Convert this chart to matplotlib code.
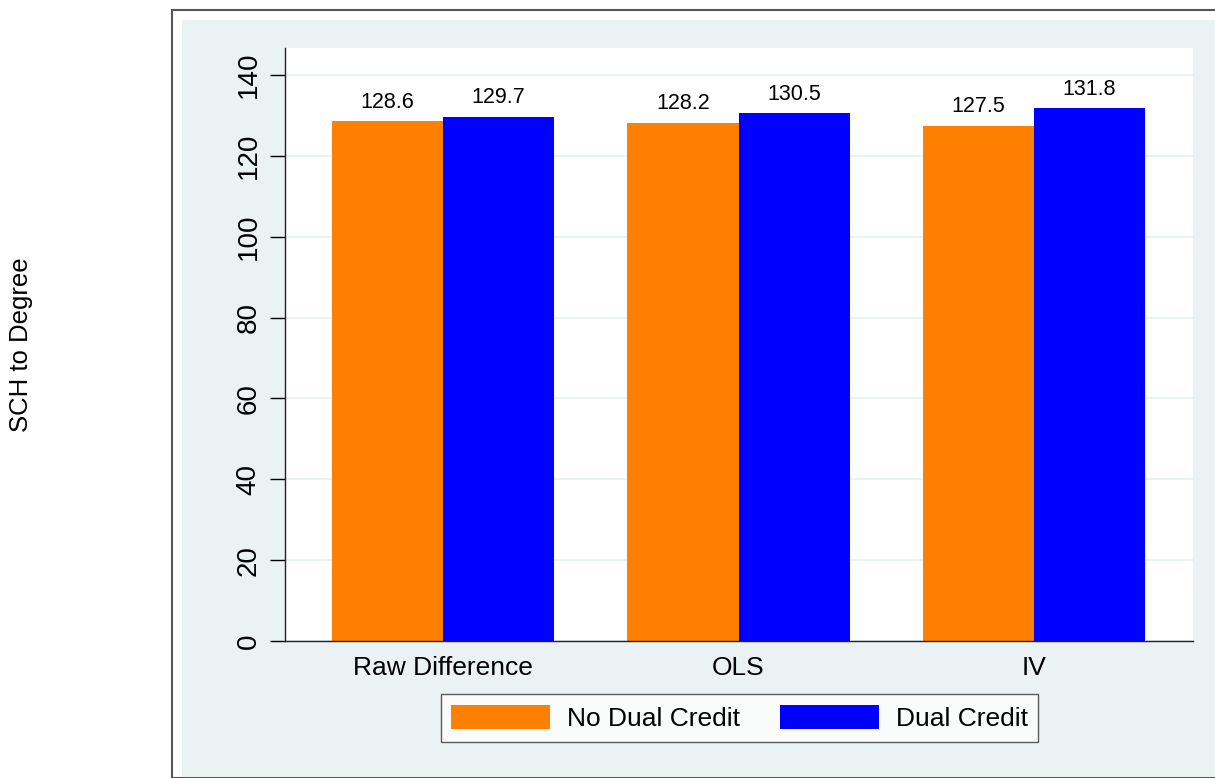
import matplotlib
matplotlib.use("Agg")
import matplotlib.pyplot as plt
import numpy as np
from matplotlib.patches import Rectangle

plt.rcParams['font.family'] = ['Liberation Sans', 'DejaVu Sans']

categories = ['Raw Difference', 'OLS', 'IV']
no_dual = [128.6, 128.2, 127.5]
dual = [129.7, 130.5, 131.8]
series_labels = ['No Dual Credit', 'Dual Credit']
yticks = [0, 20, 40, 60, 80, 100, 120, 140]

W, H = 1215, 778
fig = plt.figure(figsize=(W / 100, H / 100), dpi=100)
fig.patch.set_facecolor('white')

# outer frame and light panel (Stata-like graph region)
fig.patches.append(Rectangle((172 / W, 0), (W - 172 + 20) / W, (H - 10) / H,
                             transform=fig.transFigure, facecolor='white',
                             edgecolor='#555555', linewidth=1.5, zorder=-2))
fig.patches.append(Rectangle((182 / W, 1 / H), (W - 182) / W, (H - 21) / H,
                             transform=fig.transFigure, facecolor='#EAF2F3',
                             edgecolor='none', zorder=-1))

ax = fig.add_axes([285 / W, (H - 641) / H, (1193 - 285) / W, (641 - 48) / H])
ax.set_facecolor('white')

x = np.arange(len(categories))
width = 0.376
b1 = ax.bar(x - width / 2, no_dual, width, color='#FF8000', label=series_labels[0], zorder=2)
b2 = ax.bar(x + width / 2, dual, width, color='#0000FF', label=series_labels[1], zorder=2)

for bars in (b1, b2):
    for rect in bars:
        h = rect.get_height()
        ax.annotate(f'{h:.1f}', xy=(rect.get_x() + rect.get_width() / 2, h),
                    xytext=(0, 6), textcoords='offset points',
                    ha='center', va='bottom', fontsize=15.5)

ax.set_xlim(-0.535, 2.538)
ax.set_ylim(0, 146.7)
ax.set_yticks(yticks)
ax.set_yticklabels([str(v) for v in yticks], rotation=90, va='center', fontsize=20)
ax.set_xticks(x)
ax.set_xticklabels(categories, fontsize=19)
ax.tick_params(axis='x', length=0, pad=11)
ax.tick_params(axis='y', length=11, width=1, pad=6)
ax.yaxis.grid(True, color='#EAF2F3', linewidth=1.5, zorder=0)
ax.set_axisbelow(True)
for s in ('top', 'right'):
    ax.spines[s].set_visible(False)
for s in ('left', 'bottom'):
    ax.spines[s].set_color('#222222')
    ax.spines[s].set_linewidth(1)

fig.text(21 / W, 1 - 345 / H, 'SCH to Degree', rotation=90, ha='center', va='center', fontsize=18.5)

leg = ax.legend(loc='center', bbox_to_anchor=((439 + 1040) / 2 / W, 1 - 718 / H),
                bbox_transform=fig.transFigure, ncol=2, fontsize=19, frameon=True,
                fancybox=False, edgecolor='#333333', handlelength=3.75, handleheight=1.05,
                handletextpad=0.65, columnspacing=1.5, borderpad=0.4, borderaxespad=0)
leg.get_frame().set_linewidth(1)

fig.savefig('out.png', dpi=100)
